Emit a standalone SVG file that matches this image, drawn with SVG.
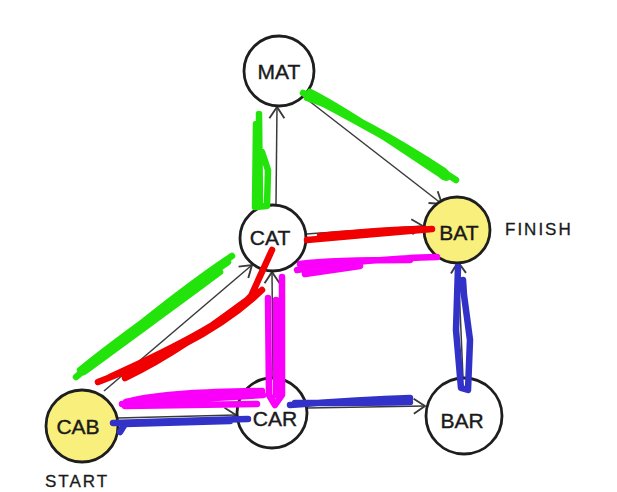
<svg xmlns="http://www.w3.org/2000/svg" width="617" height="492" viewBox="0 0 617 492">
<style>
.node{fill:#fff;stroke:#1e1e1e;stroke-width:2.8}
.start,.finish{fill:#f8ef7c}
.lbl{font-family:"Liberation Sans",Arial,sans-serif;font-size:21px;fill:#1a1a1a;text-anchor:middle;dominant-baseline:central;stroke:#1a1a1a;stroke-width:0.4}
.note{font-family:"Liberation Sans",Arial,sans-serif;font-size:17px;fill:#1a1a1a;letter-spacing:2px;stroke:#1a1a1a;stroke-width:0.3}
.arrow{fill:none;stroke:#3a3a3a;stroke-width:1.5;marker-end:url(#ah)}
.hl{fill:none;stroke-width:6.5;stroke-linecap:round;stroke-linejoin:round}
.g{stroke:#22e40a}.r{stroke:#f00000}.m{stroke:#fa00fa}.b{stroke:#3232c8}
</style>
<defs>
<marker id="ah" markerUnits="userSpaceOnUse" markerWidth="20" markerHeight="20" viewBox="-12 -8 14 16" refX="0" refY="0" orient="auto">
<path d="M-9,-6 L0,0 L-9,6" fill="none" stroke="#3a3a3a" stroke-width="1.5"/>
</marker>
</defs>
<g id="connectors">
<path class="arrow" d="M276,204 L277,107"/>
<path class="arrow" d="M304,97 L442,204"/>
<path class="arrow" d="M306,234 L423,226"/>
<path class="arrow" d="M104,391 L252,265"/>
<path class="arrow" d="M273,380 L272,272"/>
<path class="arrow" d="M118,418 L236,415"/>
<path class="arrow" d="M307,408 L425,406"/>
<path class="arrow" d="M463,378 L458,262"/>
</g>
<g id="nodes">
<g id="MAT"><circle class="node" cx="279" cy="71" r="35"/><text class="lbl" x="279" y="71">MAT</text></g>
<g id="CAT"><circle class="node" cx="273" cy="238" r="33"/><text class="lbl" x="270" y="237">CAT</text></g>
<g id="BAT"><circle class="node finish" cx="457" cy="230" r="33"/><text class="lbl" x="459" y="232">BAT</text></g>
<g id="CAB"><circle class="node start" cx="82" cy="426" r="36"/><text class="lbl" x="78" y="426">CAB</text></g>
<g id="CAR"><circle class="node" cx="272" cy="413" r="35"/><text class="lbl" x="275" y="418">CAR</text></g>
<g id="BAR"><circle class="node" cx="464" cy="416" r="38"/><text class="lbl" x="462" y="420">BAR</text></g>
</g>
<g id="labels">
<text class="note" x="505" y="235">FINISH</text>
<text class="note" x="45" y="487">START</text>
</g>
<g id="highlights">
<path class="hl g" d="M259,114 L260,205 M256,124 L255,207 L267,206 L268,170 L262,152"/>
<path class="hl g" d="M303,93 C340,112 410,150 456,180 M310,92 C350,112 400,148 440,174 C446,180 452,178 444,171 C400,142 340,108 307,98"/>
<path class="hl g" d="M76,377 C120,340 180,290 232,256 M80,370 C130,330 180,295 228,262 M84,372 C130,338 180,302 220,272"/>
<path class="hl r" d="M98,382 C150,362 215,335 262,290 M110,377 C170,350 230,320 251,296 L272,250 M125,378 C180,352 230,312 258,292"/>
<path class="hl r" d="M307,240 C340,237 400,232 432,229 M320,236 C360,232 400,229 425,229"/>
<path class="hl m" d="M297,270 C340,262 400,258 437,257 M300,264 C330,260 380,260 410,260 M305,274 L360,266"/>
<path class="hl m" d="M268,298 L269,395 L275,405 L282,395 L282,277 M276,300 L276,395"/>
<path class="hl m" d="M122,404 C170,400 220,398 263,395 M126,402 C160,393 210,392 262,391 M125,406 L257,404"/>
<path class="hl b" d="M113,423 C150,422 200,420 248,419 M120,432 L125,424 C170,423 200,422 230,421"/>
<path class="hl b" d="M290,405 C330,402 380,399 410,398 M295,403 C340,403 380,403 410,402"/>
<path class="hl b" d="M458,267 L456,330 L461,388 L468,390 L470,340 L464,295 L463,280"/>
</g>
</svg>
